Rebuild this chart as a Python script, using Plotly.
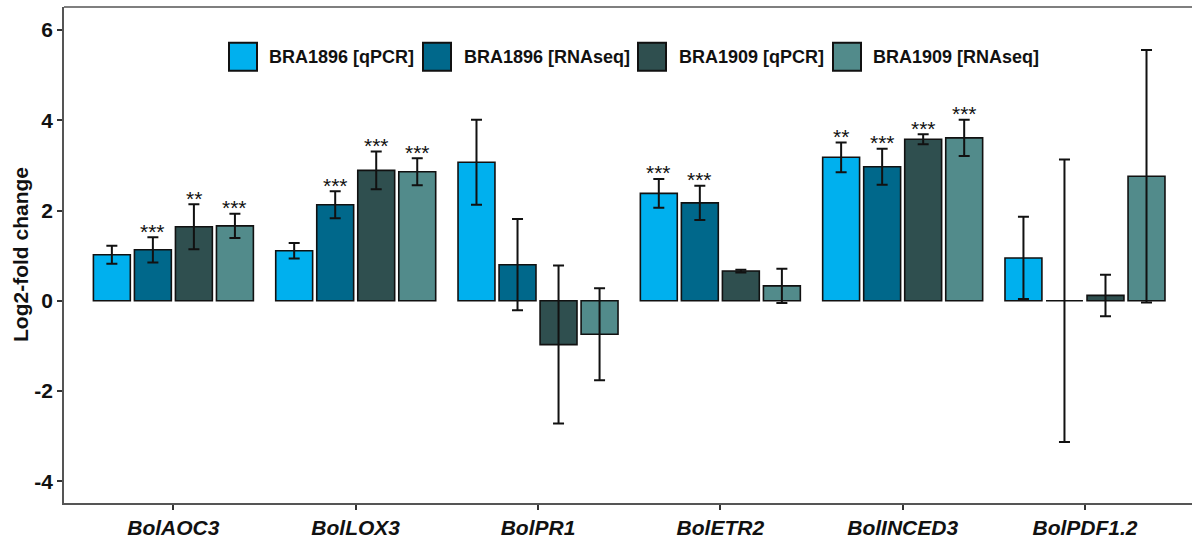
import plotly.graph_objects as go

genes = ["BolAOC3", "BolLOX3", "BolPR1", "BolETR2", "BolINCED3", "BolPDF1.2"]
series_names = ["BRA1896 [qPCR]", "BRA1896 [RNAseq]", "BRA1909 [qPCR]", "BRA1909 [RNAseq]"]
series_colors = ["#00B0EE", "#00688B", "#2F4F4F", "#528B8B"]

bra1896_qpcr = [1.02, 1.11, 3.07, 2.38, 3.18, 0.95]
bra1896_qpcr_err = [0.20, 0.17, 0.94, 0.32, 0.33, 0.91]
bra1896_qpcr_sig = ["", "", "", "***", "**", ""]

bra1896_rnaseq = [1.13, 2.13, 0.80, 2.17, 2.97, 0.0]
bra1896_rnaseq_err = [0.28, 0.30, 1.01, 0.38, 0.40, 3.13]
bra1896_rnaseq_sig = ["***", "***", "", "***", "***", ""]

bra1909_qpcr = [1.64, 2.89, -0.97, 0.66, 3.58, 0.12]
bra1909_qpcr_err = [0.50, 0.42, 1.75, 0.03, 0.11, 0.46]
bra1909_qpcr_sig = ["**", "***", "", "", "***", ""]

bra1909_rnaseq = [1.66, 2.86, -0.74, 0.33, 3.61, 2.76]
bra1909_rnaseq_err = [0.27, 0.30, 1.02, 0.38, 0.40, 2.80]
bra1909_rnaseq_sig = ["***", "***", "", "", "***", ""]

y_ticks = [-4, -2, 0, 2, 4, 6]
y_tick_labels = ["-4", "-2", "0", "2", "4", "6"]

values = [bra1896_qpcr, bra1896_rnaseq, bra1909_qpcr, bra1909_rnaseq]
errors = [bra1896_qpcr_err, bra1896_rnaseq_err, bra1909_qpcr_err, bra1909_rnaseq_err]
sigs = [bra1896_qpcr_sig, bra1896_rnaseq_sig, bra1909_qpcr_sig, bra1909_rnaseq_sig]

W, H = 1192, 539
ML, MR, MT, MB = 64, 0, 7, 34
PW, PH = W - ML - MR, H - MT - MB

FONT = "Liberation Sans, Arial, sans-serif"

fig = go.Figure()
for name, col, v, e in zip(series_names, series_colors, values, errors):
    fig.add_trace(go.Bar(
        name=name, x=genes, y=v,
        marker=dict(color=col, line=dict(color="#111111", width=1.6)),
        error_y=dict(type="data", array=e, visible=True, color="#111111",
                     thickness=2, width=5.5),
        showlegend=False,
    ))

bargap = 0.1
slot = (1 - bargap) / len(series_names)
annotations = []
for j, (sg, v, e) in enumerate(zip(sigs, values, errors)):
    for i, s in enumerate(sg):
        if not s:
            continue
        xpos = i + (j - (len(series_names) - 1) / 2) * slot
        annotations.append(dict(
            x=xpos, y=v[i] + e[i], xref="x", yref="y", text=s, showarrow=False,
            yanchor="middle", xanchor="center", yshift=6,
            font=dict(family=FONT, size=21, color="#111111"),
        ))


def px(xp):
    return (xp - ML) / PW


def py(yp):
    return (H - MB - yp) / PH


shapes = [dict(type="line", xref="paper", yref="paper", x0=0, x1=1, y0=1, y1=1,
               line=dict(color="#555555", width=1.5))]

# custom legend
legend_box_x = [229, 423, 638, 833]
legend_text_x = [267, 462, 677, 871]
for bx, tx, name, col in zip(legend_box_x, legend_text_x, series_names, series_colors):
    shapes.append(dict(type="rect", xref="paper", yref="paper",
                       x0=px(bx), x1=px(bx + 28), y0=py(71), y1=py(43),
                       fillcolor=col, line=dict(color="#111111", width=2)))
    annotations.append(dict(x=px(tx), y=py(57), xref="paper", yref="paper",
                            text=name, showarrow=False, xanchor="left", yanchor="middle",
                            font=dict(family=FONT, size=18, color="#111111", weight="bold")))

# y-axis title
annotations.append(dict(x=px(20), y=0.5, xref="paper", yref="paper",
                        text="Log2-fold change", textangle=-90, showarrow=False,
                        xanchor="center", yanchor="middle",
                        font=dict(family=FONT, size=21, color="#111111", weight="bold")))

fig.update_layout(
    width=W, height=H,
    margin=dict(l=ML, r=MR, t=MT, b=MB, pad=0),
    paper_bgcolor="white", plot_bgcolor="white",
    barmode="group", bargap=bargap, bargroupgap=0.1,
    shapes=shapes, annotations=annotations,
    xaxis=dict(
        type="category", range=[-0.6, 5.587], showgrid=False, zeroline=False,
        showline=True, linecolor="#555555", linewidth=1.5,
        ticks="outside", ticklen=5, tickwidth=1.5, tickcolor="#333333",
        tickfont=dict(family=FONT, size=21, color="#111111", weight="bold", style="italic"),
    ),
    yaxis=dict(
        range=[-4.48, 6.51], tickvals=y_ticks, ticktext=y_tick_labels,
        showgrid=False, zeroline=False,
        showline=True, linecolor="#555555", linewidth=1.5,
        ticks="outside", ticklen=5, tickwidth=1.5, tickcolor="#333333",
        tickfont=dict(family=FONT, size=21, color="#111111", weight="bold"),
    ),
)

fig.write_html("out.html")
